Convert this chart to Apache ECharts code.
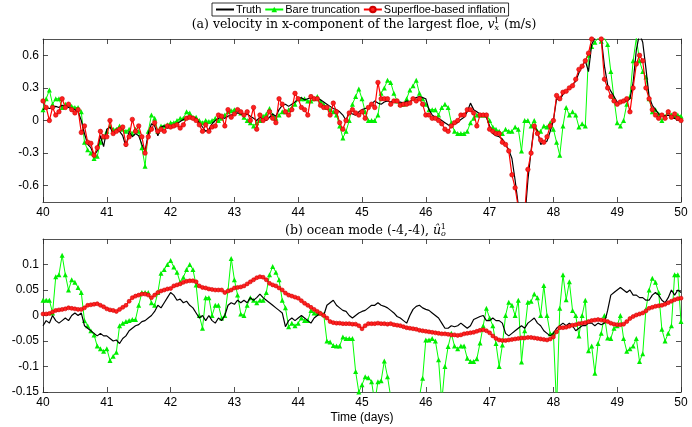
<!DOCTYPE html>
<html>
<head>
<meta charset="utf-8">
<script src="https://cdn.jsdelivr.net/npm/echarts@6/dist/echarts.min.js"></script>
<style>
  html, body { margin: 0; padding: 0; background: #fff; }
  #chart { width: 692px; height: 427px; }
</style>
</head>
<body>
<div id="chart"></div>
<script>
// sample times in days, one every 0.05 d
const days = Array.from({ length: 201 }, (_, i) => +(40 + i * 0.05).toFixed(2));
const vxTicks = [-0.6, -0.3, 0, 0.3, 0.6];
const uoTicks = [-0.15, -0.1, -0.05, 0, 0.05, 0.1];

// (a) velocity of the largest floe
const vxTruth = [
  0.10, 0.12, 0.11, 0.12, 0.13, 0.12, 0.14, 0.13, 0.12, 0.11,
  0.10, 0.08, 0.00, -0.12, -0.22, -0.25, -0.32, -0.28, -0.14, -0.24,
  -0.08, -0.06, -0.12, -0.08, -0.10, -0.14, -0.24, -0.10, -0.15, -0.12,
  -0.14, -0.22, -0.28, -0.12, -0.03, -0.05, -0.14, -0.06, -0.05, -0.07,
  -0.06, -0.04, -0.03, -0.01, 0.01, 0.03, 0.04, 0.03, 0.02, -0.02,
  -0.06, -0.10, -0.08, -0.03, 0.00, 0.02, 0.03, 0.02, 0.04, 0.05,
  0.06, 0.07, 0.06, 0.05, 0.06, 0.04, 0.02, 0.00, 0.03, 0.01,
  0.00, 0.03, 0.06, 0.04, 0.10, 0.14, 0.15, 0.13, 0.15, 0.17,
  0.20, 0.21, 0.19, 0.20, 0.21, 0.20, 0.20, 0.19, 0.17, 0.15,
  0.13, 0.11, 0.10, 0.08, 0.05, 0.00, 0.08, 0.06, 0.05, 0.08,
  0.10, 0.11, 0.12, 0.15, 0.18, 0.16, 0.15, 0.17, 0.18, 0.17,
  0.18, 0.17, 0.17, 0.16, 0.18, 0.17, 0.20, 0.21, 0.22, 0.21,
  0.20, 0.10, 0.05, 0.03, 0.02, 0.00, -0.02, -0.04, -0.05, -0.03,
  -0.02, 0.01, 0.03, 0.08, 0.16, 0.10, 0.08, 0.06, 0.05, 0.03,
  -0.05, -0.12, -0.14, -0.15, -0.17, -0.22, -0.27, -0.35, -0.55, -0.78,
  -0.95, -0.92, -0.55, -0.28, -0.05, -0.10, -0.22, -0.20, -0.19, -0.10,
  0.00, 0.20, 0.19, 0.24, 0.27, 0.30, 0.33, 0.36, 0.44, 0.50,
  0.55, 0.45, 0.70, 0.76, 0.80, 0.76, 0.50, 0.33, 0.27, 0.22,
  0.17, 0.16, 0.17, 0.18, 0.20, 0.35, 0.65, 0.80, 0.72, 0.48,
  0.22, 0.14, 0.10, 0.06, 0.05, 0.04, 0.05, 0.03, 0.02, 0.01,
  0.00
];
const vxBare = [
  0.10, 0.20, 0.28, 0.15, 0.20, 0.20, 0.12, 0.15, 0.15, 0.13,
  0.12, 0.12, 0.08, -0.20, -0.27, -0.30, -0.35, -0.33, -0.20, -0.15,
  -0.10, -0.05, -0.08, -0.08, -0.05, -0.08, -0.10, -0.08, -0.12, -0.08,
  -0.10, -0.25, -0.42, -0.10, 0.05, 0.02, -0.10, -0.05, -0.05, -0.04,
  -0.02, -0.02, 0.00, 0.02, 0.02, 0.08, 0.07, 0.03, 0.03, 0.00,
  -0.02, 0.00, -0.01, 0.00, 0.02, 0.00, 0.02, 0.05, 0.08, 0.09,
  0.10, 0.10, 0.07, 0.03, 0.00, -0.02, -0.05, -0.02, 0.00, 0.04,
  0.06, 0.11, 0.05, 0.02, 0.05, 0.08, 0.08, 0.10, 0.12, 0.15,
  0.20, 0.20, 0.20, 0.18, 0.18, 0.20, 0.22, 0.18, 0.15, 0.12,
  0.10, 0.08, 0.05, -0.05, -0.16, -0.10, 0.00, 0.15, 0.22, 0.29,
  0.20, 0.08, 0.00, 0.00, 0.00, 0.05, 0.25, 0.30, 0.37, 0.35,
  0.25, 0.18, 0.15, 0.15, 0.20, 0.28, 0.32, 0.37, 0.25, 0.20,
  0.15, 0.10, 0.10, 0.10, 0.05, 0.12, 0.15, 0.12, -0.02, -0.10,
  -0.12, -0.12, -0.12, -0.10, -0.02, 0.02, 0.05, 0.05, 0.05, 0.05,
  0.00, -0.06, -0.08, -0.10, -0.12, -0.08, -0.10, -0.10, -0.06, -0.08,
  -0.28, 0.00, 0.00, -0.05, 0.00, -0.10, -0.10, -0.05, -0.06, -0.02,
  -0.08, -0.20, -0.32, -0.05, 0.12, 0.05, 0.08, 0.05, -0.06, -0.03,
  -0.05, 0.60, 0.68, 0.72, 0.76, 0.73, 0.76, 0.70, 0.45, 0.20,
  -0.02, -0.05, 0.00, 0.15, 0.22, 0.55, 0.76, 0.55, 0.45, 0.40,
  0.20, 0.08, 0.10, 0.06, 0.00, 0.04, 0.08, 0.05, 0.04, 0.05,
  0.04
];
const vxInfl = [
  0.18, 0.12, 0.00, 0.12, 0.05, 0.08, 0.20, 0.12, 0.15, 0.10,
  0.07, 0.10, -0.11, -0.05, -0.20, -0.21, -0.32, -0.25, -0.10, -0.15,
  -0.15, 0.00, -0.12, -0.10, -0.08, -0.06, -0.22, -0.15, 0.01, -0.10,
  -0.05, -0.15, -0.30, -0.15, -0.08, -0.02, -0.10, -0.08, -0.10, -0.05,
  -0.06, -0.05, -0.04, -0.07, -0.04, 0.02, 0.03, 0.02, 0.00, -0.04,
  -0.10, -0.04, -0.10, -0.06, -0.05, 0.05, 0.04, -0.05, 0.10, 0.03,
  0.06, 0.10, 0.08, 0.05, 0.08, 0.00, 0.12, -0.08, 0.05, 0.00,
  0.02, 0.08, 0.02, -0.02, 0.20, 0.15, 0.08, 0.05, 0.10, 0.25,
  0.20, 0.12, 0.10, 0.05, 0.22, 0.20, 0.20, 0.14, 0.12, 0.12,
  0.05, 0.16, 0.08, -0.02, -0.08, 0.00, 0.07, 0.10, 0.07, 0.05,
  0.08, 0.02, 0.12, 0.15, 0.12, 0.35, 0.20, 0.20, 0.20, 0.15,
  0.18, 0.18, 0.14, 0.15, 0.15, 0.16, 0.20, 0.18, 0.20, 0.15,
  0.05, 0.05, 0.02, 0.02, 0.00, -0.03, -0.08, -0.10, -0.05, -0.02,
  0.00, 0.05, 0.05, 0.10, 0.10, 0.07, -0.05, 0.05, 0.05, 0.05,
  -0.08, -0.10, -0.12, -0.12, -0.20, -0.22, -0.28, -0.50, -0.62, -0.80,
  -0.88, -0.85, -0.45, -0.30, -0.05, -0.12, -0.18, -0.20, -0.15, -0.05,
  0.00, 0.23, 0.20, 0.26, 0.27, 0.30, 0.32, 0.38, 0.47, 0.50,
  0.55, 0.62, 0.75, 0.80, 0.78, 0.75, 0.38, 0.30, 0.22, 0.18,
  0.15, 0.17, 0.18, 0.20, 0.08, 0.30, 0.52, 0.60, 0.55, 0.30,
  0.20, 0.10, 0.05, 0.02, 0.05, 0.02, 0.08, 0.03, 0.06, 0.02,
  0.00
];

// (b) ocean mode (-4,-4)
const uoTruth = [
  -0.020, -0.010, -0.015, 0.000, -0.010, -0.015, -0.010, -0.005, -0.010, 0.000,
  0.005, 0.000, 0.005, -0.020, -0.025, -0.030, -0.035, -0.040, -0.035, -0.040,
  -0.040, -0.045, -0.050, -0.048, -0.055, -0.045, -0.040, -0.030, -0.025, -0.020,
  -0.018, -0.012, -0.010, -0.005, 0.000, 0.008, 0.020, 0.015, 0.025, 0.035,
  0.045, 0.040, 0.030, 0.032, 0.025, 0.028, 0.020, 0.015, 0.005, -0.005,
  0.000, -0.010, 0.000, -0.010, -0.015, -0.005, -0.010, 0.000, 0.020, 0.025,
  0.022, 0.030, 0.025, 0.030, 0.025, 0.035, 0.030, 0.035, 0.042, 0.035,
  0.030, 0.025, 0.020, 0.015, 0.010, 0.005, -0.022, -0.010, -0.005, -0.010,
  -0.005, 0.000, -0.005, -0.010, -0.015, -0.005, 0.000, 0.005, 0.000, 0.020,
  0.025, 0.030, 0.020, 0.015, 0.010, 0.008, 0.000, -0.005, 0.000, 0.005,
  0.008, 0.010, 0.015, 0.020, 0.020, 0.025, 0.020, 0.018, 0.015, 0.010,
  0.005, -0.002, -0.005, -0.010, -0.015, 0.000, 0.012, 0.018, 0.020, 0.015,
  0.012, 0.010, 0.005, 0.000, -0.005, -0.015, -0.025, -0.025, -0.020, -0.022,
  -0.020, -0.015, -0.020, -0.025, -0.020, -0.008, -0.005, -0.002, 0.000, -0.010,
  -0.010, -0.005, -0.010, -0.010, -0.015, -0.035, -0.040, -0.035, -0.030, -0.025,
  -0.020, -0.025, -0.015, -0.010, -0.005, -0.015, -0.020, -0.030, -0.035, -0.040,
  -0.035, -0.025, -0.020, -0.015, -0.020, -0.015, -0.020, -0.030, -0.025, -0.020,
  -0.020, -0.015, -0.015, -0.020, -0.015, -0.018, -0.015, 0.010, 0.040, 0.045,
  0.050, 0.055, 0.050, 0.045, 0.050, 0.040, 0.040, 0.035, 0.035, 0.030,
  0.030, 0.040, 0.045, 0.040, 0.030, 0.025, 0.035, 0.050, 0.040, 0.050,
  0.045
];
const uoBare = [
  0.030, 0.030, 0.030, 0.005, 0.076, 0.080, 0.118, 0.080, 0.050, 0.070,
  0.065, 0.055, 0.045, -0.010, -0.020, -0.030, -0.038, -0.060, -0.065, -0.070,
  -0.065, -0.088, -0.080, -0.072, -0.020, -0.015, -0.012, -0.010, -0.008, -0.008,
  0.020, 0.045, 0.045, 0.045, 0.025, 0.020, 0.045, 0.083, 0.090, 0.100,
  0.108, 0.095, 0.085, 0.065, 0.075, 0.090, 0.100, 0.090, 0.060, 0.000,
  -0.025, 0.035, 0.035, 0.000, 0.020, 0.020, -0.005, 0.000, 0.050, 0.112,
  0.070, 0.040, 0.003, 0.000, 0.020, 0.035, 0.030, 0.025, 0.030, 0.030,
  0.045, 0.080, 0.096, 0.085, 0.070, 0.030, 0.015, -0.022, -0.015, -0.020,
  -0.015, -0.005, -0.010, -0.010, 0.010, 0.005, 0.005, 0.005, 0.002, -0.050,
  -0.052, -0.059, -0.060, -0.060, -0.042, -0.045, -0.045, -0.045, -0.110, -0.150,
  -0.136, -0.120, -0.122, -0.130, -0.170, -0.130, -0.128, -0.089, -0.120, -0.160,
  -0.170, -0.200, -0.200, -0.200, -0.200, -0.200, -0.200, -0.200, -0.160, -0.123,
  -0.048, -0.048, -0.045, -0.050, -0.087, -0.170, -0.100, -0.061, -0.035, -0.060,
  -0.065, -0.060, -0.060, -0.084, -0.090, -0.090, -0.085, -0.054, -0.020, 0.014,
  -0.005, -0.020, -0.055, -0.100, -0.058, 0.000, 0.026, 0.020, 0.000, 0.030,
  -0.091, -0.030, 0.026, 0.028, 0.042, 0.035, 0.000, 0.059, 0.000, -0.036,
  -0.035, -0.180, 0.014, 0.080, 0.031, 0.066, 0.010, 0.000, -0.040, 0.000,
  0.030, -0.069, -0.060, -0.113, -0.055, -0.035, 0.000, -0.044, -0.045, -0.025,
  -0.020, 0.000, -0.045, -0.070, -0.065, -0.060, -0.045, -0.090, -0.075, 0.012,
  0.050, 0.073, 0.065, 0.045, -0.027, -0.050, -0.035, -0.020, 0.080, 0.080,
  -0.012
];
const uoInfl = [
  0.003, 0.003, 0.004, 0.007, 0.010, 0.011, 0.012, 0.013, 0.015, 0.014,
  0.013, 0.012, 0.012, 0.015, 0.020, 0.021, 0.022, 0.023, 0.020, 0.017,
  0.013, 0.011, 0.010, 0.008, 0.012, 0.016, 0.020, 0.028, 0.035, 0.038,
  0.040, 0.042, 0.042, 0.040, 0.035, 0.040, 0.045, 0.048, 0.050, 0.052,
  0.053, 0.058, 0.060, 0.062, 0.065, 0.067, 0.068, 0.068, 0.066, 0.058,
  0.055, 0.054, 0.052, 0.051, 0.050, 0.050, 0.050, 0.045, 0.048, 0.050,
  0.054, 0.055, 0.056, 0.058, 0.062, 0.066, 0.070, 0.074, 0.076, 0.075,
  0.070, 0.063, 0.060, 0.058, 0.054, 0.050, 0.044, 0.040, 0.038, 0.036,
  0.034, 0.029, 0.024, 0.020, 0.016, 0.012, 0.008, 0.004, 0.000, -0.005,
  -0.012, -0.014, -0.015, -0.015, -0.016, -0.016, -0.016, -0.017, -0.017, -0.020,
  -0.026, -0.020, -0.016, -0.016, -0.016, -0.015, -0.016, -0.016, -0.017, -0.016,
  -0.018, -0.019, -0.020, -0.022, -0.024, -0.025, -0.026, -0.027, -0.029, -0.030,
  -0.031, -0.032, -0.033, -0.034, -0.035, -0.036, -0.036, -0.037, -0.038, -0.038,
  -0.039, -0.038, -0.036, -0.035, -0.034, -0.033, -0.031, -0.029, -0.028, -0.030,
  -0.034, -0.040, -0.045, -0.048, -0.049, -0.049, -0.048, -0.047, -0.046, -0.045,
  -0.044, -0.044, -0.043, -0.043, -0.044, -0.045, -0.046, -0.047, -0.048, -0.046,
  -0.042, -0.032, -0.024, -0.024, -0.023, -0.021, -0.019, -0.018, -0.016, -0.015,
  -0.014, -0.012, -0.010, -0.009, -0.008, -0.009, -0.010, -0.012, -0.015, -0.017,
  -0.018, -0.018, -0.017, -0.012, -0.006, -0.002, 0.001, 0.003, 0.005, 0.009,
  0.014, 0.016, 0.018, 0.019, 0.020, 0.022, 0.025, 0.028, 0.031, 0.033,
  0.034
];

const AXIS = '#262626';
const SANS = 'Liberation Sans, Arial, sans-serif';
const SERIF = 'DejaVu Serif, serif';

function pairs(vals) {
  return days.map((d, i) => [d, vals[i]]);
}

function fmt(v) {
  return v === 0 ? '0' : String(+v.toFixed(2));
}

// bottom/top x axes for one panel
function xAxes(gi, withName) {
  const base = {
    type: 'value', gridIndex: gi, min: 40, max: 50, interval: 1,
    axisLine: { onZero: false, lineStyle: { color: AXIS, width: 0.8 } },
    axisTick: { inside: true, length: 5, lineStyle: { color: AXIS, width: 0.8 } },
    splitLine: { show: false }
  };
  const bottom = Object.assign({}, base, {
    position: 'bottom',
    axisLabel: { color: '#000', fontFamily: SANS, fontSize: 12, margin: 5 }
  });
  if (withName) {
    bottom.name = 'Time (days)';
    bottom.nameLocation = 'middle';
    bottom.nameGap = 20;
    bottom.nameTextStyle = { color: '#000', fontFamily: SANS, fontSize: 12 };
  }
  const top = Object.assign({}, base, { position: 'top', axisLabel: { show: false } });
  return [bottom, top];
}

function yAxes(gi, lo, hi, ticks) {
  const base = {
    type: 'value', gridIndex: gi, min: lo, max: hi,
    axisLine: { lineStyle: { color: AXIS, width: 0.8 } },
    axisTick: { inside: true, length: 5, customValues: ticks, lineStyle: { color: AXIS, width: 0.8 } },
    splitLine: { show: false }
  };
  const left = Object.assign({}, base, {
    position: 'left',
    axisLabel: { color: '#000', fontFamily: SANS, fontSize: 12, margin: 4, customValues: ticks, formatter: fmt }
  });
  const right = Object.assign({}, base, { position: 'right', axisLabel: { show: false } });
  return [left, right];
}

function panelSeries(gi, truth, bare, infl, redSize) {
  const xi = gi * 2, yi = gi * 2;
  return [
    {
      name: 'Truth', type: 'line', xAxisIndex: xi, yAxisIndex: yi,
      data: pairs(truth), showSymbol: false, symbol: 'none',
      lineStyle: { color: '#000', width: 1.2 }, itemStyle: { color: '#000' }, z: 3
    },
    {
      name: 'Bare truncation', type: 'line', xAxisIndex: xi, yAxisIndex: yi,
      data: pairs(bare), symbol: 'triangle', symbolSize: 5,
      lineStyle: { color: '#00ff00', width: 1 }, itemStyle: { color: '#00ee00' }, z: 2
    },
    {
      name: 'Superfloe-based inflation', type: 'line', xAxisIndex: xi, yAxisIndex: yi,
      data: pairs(infl), symbol: 'circle', symbolSize: redSize,
      lineStyle: { color: '#ff0000', width: 1.2 },
      itemStyle: { color: '#ff2020', borderColor: '#d00000', borderWidth: 0.6 }, z: 4
    }
  ];
}

// title text with italic symbol, stacked sub/superscript
function titleRich() {
  return {
    it: { fontFamily: SERIF, fontSize: 12.5, fontStyle: 'italic', lineHeight: 15 },
    sub: { fontFamily: SERIF, fontSize: 8, fontStyle: 'italic', verticalAlign: 'bottom', lineHeight: 8 },
    sup: { fontFamily: SERIF, fontSize: 8, verticalAlign: 'top', lineHeight: 8, padding: [0, 1, 0, -5] }
  };
}

const chart = echarts.init(document.getElementById('chart'));
chart.setOption({
  animation: false,
  backgroundColor: '#fff',
  title: [
    {
      text: '(a) velocity in x-component of the largest floe, {it|v}{sub|x}{sup|1} (m/s)',
      left: 359, top: 12, textAlign: 'center',
      textStyle: {
        fontFamily: SERIF, fontSize: 12.5, fontWeight: 'normal', color: '#000', lineHeight: 15,
        rich: titleRich()
      }
    },
    {
      text: '(b) ocean mode (-4,-4), {it|û}{sub|o}{sup|1}',
      left: 361, top: 218, textAlign: 'center',
      textStyle: {
        fontFamily: SERIF, fontSize: 12.5, fontWeight: 'normal', color: '#000', lineHeight: 15,
        rich: titleRich()
      }
    }
  ],
  legend: {
    data: [
      { name: 'Truth', itemStyle: { opacity: 0 } },
      'Bare truncation',
      'Superfloe-based inflation'
    ],
    left: 212, top: 3,
    padding: [1, 3, 1, 3],
    itemGap: 3, itemWidth: 18, itemHeight: 7,
    borderColor: '#000', borderWidth: 0.8, backgroundColor: '#fff',
    textStyle: { fontFamily: SANS, fontSize: 11, color: '#000', padding: [0, 0, 0, -3] }
  },
  grid: [
    { left: 43, right: 11, top: 39, height: 163 },
    { left: 43, right: 11, top: 239, height: 153 }
  ],
  xAxis: [].concat(xAxes(0, false), xAxes(1, true)),
  yAxis: [].concat(yAxes(0, -0.75, 0.75, vxTicks), yAxes(1, -0.15, 0.15, uoTicks)),
  series: [].concat(
    panelSeries(0, vxTruth, vxBare, vxInfl, 4.5),
    panelSeries(1, uoTruth, uoBare, uoInfl, 4)
  )
});
</script>
</body>
</html>
